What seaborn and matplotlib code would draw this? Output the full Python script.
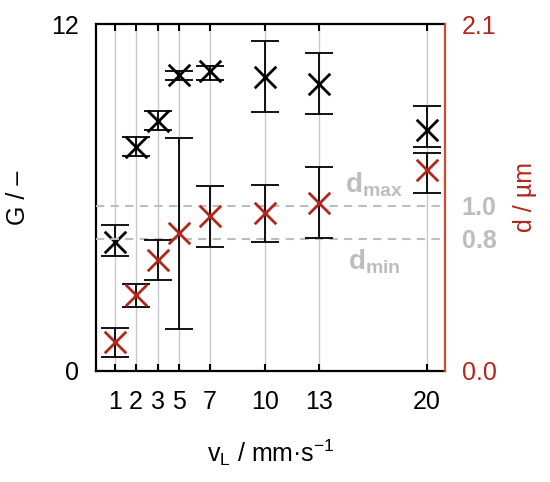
import matplotlib
matplotlib.use("Agg")
import matplotlib.pyplot as plt
import seaborn as sns
import pandas as pd

# --- DATA ---
speeds = ["1", "2", "3", "5", "7", "10", "13", "20"]
tick_pos = [1, 1.98, 3.0, 3.98, 5.43, 7.99, 10.49, 15.5]

g_mean = [4.47, 7.76, 8.65, 10.24, 10.36, 10.18, 9.93, 8.34]
g_low = [3.98, 7.44, 8.34, 10.07, 10.07, 8.96, 8.89, 7.76]
g_high = [5.04, 8.10, 9.00, 10.36, 10.56, 11.42, 11.01, 9.15]

d_mean = [0.177, 0.46, 0.672, 0.834, 0.94, 0.955, 1.015, 1.217]
d_low = [0.087, 0.389, 0.551, 0.254, 0.752, 0.783, 0.803, 1.076]
d_high = [0.262, 0.525, 0.793, 1.41, 1.12, 1.126, 1.237, 1.32]

d_limits = [0.8, 1.0]

RED = "#b3261a"
GREY = "#bdbdbd"

sns.set_style("white")
plt.rcParams["font.family"] = ["Liberation Sans", "DejaVu Sans"]
plt.rcParams["text.color"] = "black"
plt.rcParams["axes.labelcolor"] = "black"
plt.rcParams["xtick.color"] = "black"
plt.rcParams["ytick.color"] = "black"
plt.rcParams["mathtext.fontset"] = "custom"
plt.rcParams["mathtext.rm"] = "Liberation Sans"
plt.rcParams["mathtext.it"] = "Liberation Sans"
plt.rcParams["mathtext.bf"] = "Liberation Sans:bold"

FS = 18

df = pd.DataFrame({"x": tick_pos, "g": g_mean, "d": d_mean})

fig = plt.figure(figsize=(5.5, 4.82), dpi=100)
ax = fig.add_axes([96 / 550, 1 - 371 / 482, 349 / 550, 347 / 482])
ax2 = ax.twinx()

ax.set_xlim(0.12, 16.35)
ax.set_ylim(0, 12)
ax2.set_ylim(0, 2.1)

# vertical grid at the speeds
for xp in tick_pos:
    ax.axvline(xp, color="#c8c8c8", lw=1, zorder=0)

# G series (left axis)
ax.errorbar(tick_pos, g_mean,
            yerr=[[m - lo for m, lo in zip(g_mean, g_low)],
                  [hi - m for m, hi in zip(g_mean, g_high)]],
            fmt="none", ecolor="black", elinewidth=1.3, capsize=10, capthick=1.3, zorder=3)
sns.scatterplot(data=df, x="x", y="g", marker="x", s=240, color="black",
                linewidth=2, ax=ax, zorder=4, legend=False)

# d series (right axis)
for yl in d_limits:
    ax2.axhline(yl, color=GREY, lw=1.5, dashes=(4, 3), zorder=1)
ax2.errorbar(tick_pos, d_mean,
             yerr=[[m - lo for m, lo in zip(d_mean, d_low)],
                   [hi - m for m, hi in zip(d_mean, d_high)]],
             fmt="none", ecolor="black", elinewidth=1.3, capsize=10, capthick=1.3, zorder=3)
sns.scatterplot(data=df, x="x", y="d", marker="x", s=240, color=RED,
                linewidth=2, ax=ax2, zorder=4, legend=False)

ax2.text(13.05, 1.04, r"$\mathbf{d_{max}}$", color=GREY, fontsize=20,
         ha="center", va="bottom")
ax2.text(13.05, 0.75, r"$\mathbf{d_{min}}$", color=GREY, fontsize=20,
         ha="center", va="top")

# x axis
ax.set_xticks(tick_pos)
ax.set_xticklabels(speeds)
ax.tick_params(axis="x", direction="in", length=5, width=1.5, top=True,
               bottom=True, labelsize=FS, pad=14, color="black")
ax.set_xlabel(r"$\mathrm{v_L}$ / mm·s$^{-1}$", fontsize=FS)
ax.xaxis.set_label_coords(0.5, -0.19)

# left axis
ax.set_yticks([0, 12])
ax.tick_params(axis="y", length=0, labelsize=FS, pad=12)
ax.set_ylabel("G / –", fontsize=FS)
ax.yaxis.set_label_coords(-0.19, 0.5)

# right axis
ax2.set_yticks([0, 0.8, 1.0, 2.1])
ax2.set_yticklabels(["0.0", "0.8", "1.0", "2.1"])
ax2.tick_params(axis="y", length=0, labelsize=FS, pad=12)
for lab, val in zip(ax2.get_yticklabels(), [0, 0.8, 1.0, 2.1]):
    if val in d_limits:
        lab.set_color(GREY)
        lab.set_fontweight("bold")
    else:
        lab.set_color(RED)
ax2.set_ylabel("d / µm", fontsize=FS, color=RED)
ax2.yaxis.set_label_coords(1.195, 0.5)

for sp in ["left", "top", "bottom"]:
    ax.spines[sp].set_color("black")
    ax.spines[sp].set_linewidth(1.6)
    ax2.spines[sp].set_visible(False)
ax.spines["right"].set_visible(False)
ax2.spines["right"].set_color("#d04a30")
ax2.spines["right"].set_linewidth(1.6)

fig.savefig("out.png", dpi=100)
